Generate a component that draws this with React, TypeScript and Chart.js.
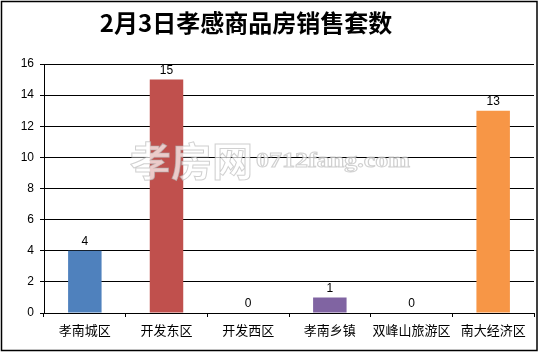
import React, { useEffect, useRef } from 'react';
import { Chart, registerables } from 'chart.js';

Chart.register(...registerables);

const categories = ['孝南城区', '开发东区', '开发西区', '孝南乡镇', '双峰山旅游区', '南大经济区'];
const salesCounts = [4, 15, 0, 1, 0, 13];
const barColors = ['#4F81BD', '#C0504D', '#9BBB59', '#8064A2', '#4BACC6', '#F79646'];
const yMin = 0;
const yMax = 16;
const yStep = 2;
const titleText = '2月3日孝感商品房销售套数';
const watermarkMain = '孝房网';
const watermarkSub = '0712fang.com';

const cjkFont = '"Noto Sans CJK SC", "Noto Sans", sans-serif';
const numFont = '"Liberation Sans", "DejaVu Sans", sans-serif';

const decorPlugin = {
  id: 'decor',
  beforeDraw(chart: any) {
    const ctx = chart.ctx;
    ctx.save();
    ctx.fillStyle = '#ffffff';
    ctx.fillRect(0, 0, chart.width, chart.height);
    ctx.restore();
  },
  afterDatasetsDraw(chart: any) {
    const ctx = chart.ctx;
    const meta = chart.getDatasetMeta(0);
    ctx.save();
    ctx.fillStyle = '#000000';
    ctx.font = `12px ${numFont}`;
    ctx.textAlign = 'center';
    ctx.textBaseline = 'middle';
    meta.data.forEach((el: any, i: number) => {
      ctx.fillText(String(salesCounts[i]), el.x, el.y - 9);
    });
    ctx.restore();
  },
  afterDraw(chart: any) {
    const ctx = chart.ctx;
    ctx.save();
    // title
    ctx.fillStyle = '#000000';
    ctx.font = `bold 24px ${cjkFont}`;
    ctx.textAlign = 'center';
    ctx.textBaseline = 'middle';
    ctx.fillText(titleText, 246, 23);

    // watermark
    ctx.textAlign = 'left';
    ctx.textBaseline = 'middle';
    ctx.font = `bold 40px ${cjkFont}`;
    const mw = ctx.measureText(watermarkMain).width;
    ctx.save();
    ctx.translate(130, 161);
    ctx.scale(123 / mw, 1);
    ctx.fillStyle = 'rgba(255,255,255,0.7)';
    ctx.strokeStyle = 'rgba(170,170,170,0.55)';
    ctx.lineWidth = 1;
    ctx.fillText(watermarkMain, 0, 0);
    ctx.strokeText(watermarkMain, 0, 0);
    ctx.restore();

    ctx.font = `bold 21px "Liberation Serif", serif`;
    const sw = ctx.measureText(watermarkSub).width;
    ctx.save();
    ctx.translate(256, 162);
    ctx.scale(154 / sw, 1);
    ctx.fillStyle = 'rgba(255,255,255,0.7)';
    ctx.strokeStyle = 'rgba(170,170,170,0.55)';
    ctx.lineWidth = 1;
    ctx.fillText(watermarkSub, 0, 0);
    ctx.strokeText(watermarkSub, 0, 0);
    ctx.restore();

    // outer frame
    ctx.strokeStyle = '#000000';
    ctx.lineWidth = 1.5;
    ctx.strokeRect(1.5, 1.5, 535.5, 349);
    ctx.restore();
  },
};

export default function App() {
  const canvasRef = useRef<HTMLCanvasElement | null>(null);

  useEffect(() => {
    document.body.style.margin = '0';
    const canvas = canvasRef.current;
    if (!canvas) return;
    const chart = new Chart(canvas, {
      type: 'bar',
      data: {
        labels: categories,
        datasets: [
          {
            data: salesCounts,
            backgroundColor: barColors,
            borderWidth: 0,
            barPercentage: 0.41,
            categoryPercentage: 1,
          },
        ],
      },
      options: {
        responsive: false,
        animation: false,
        devicePixelRatio: 1,
        layout: { padding: { top: 64, right: 6, left: 0, bottom: 0 } },
        plugins: {
          legend: { display: false },
          title: { display: false },
          tooltip: { enabled: false },
        },
        scales: {
          x: {
            afterFit(scale: any) {
              scale.height = 39;
            },
            grid: {
              offset: true,
              drawOnChartArea: false,
              drawTicks: true,
              tickLength: 4,
              color: '#000000',
              lineWidth: 1,
            },
            border: { color: '#000000', width: 1 },
            ticks: {
              color: '#000000',
              font: { family: cjkFont, size: 13 },
              padding: 5,
              autoSkip: false,
              maxRotation: 0,
            },
          },
          y: {
            min: yMin,
            max: yMax,
            afterFit(scale: any) {
              scale.width = 44;
            },
            grid: {
              color: '#000000',
              lineWidth: 1,
              tickLength: 4,
            },
            border: { color: '#000000', width: 1 },
            ticks: {
              stepSize: yStep,
              color: '#000000',
              font: { family: numFont, size: 12 },
              padding: 6,
            },
          },
        },
      },
      plugins: [decorPlugin],
    });
    return () => chart.destroy();
  }, []);

  return <canvas ref={canvasRef} width={540} height={352} style={{ display: 'block' }} />;
}
